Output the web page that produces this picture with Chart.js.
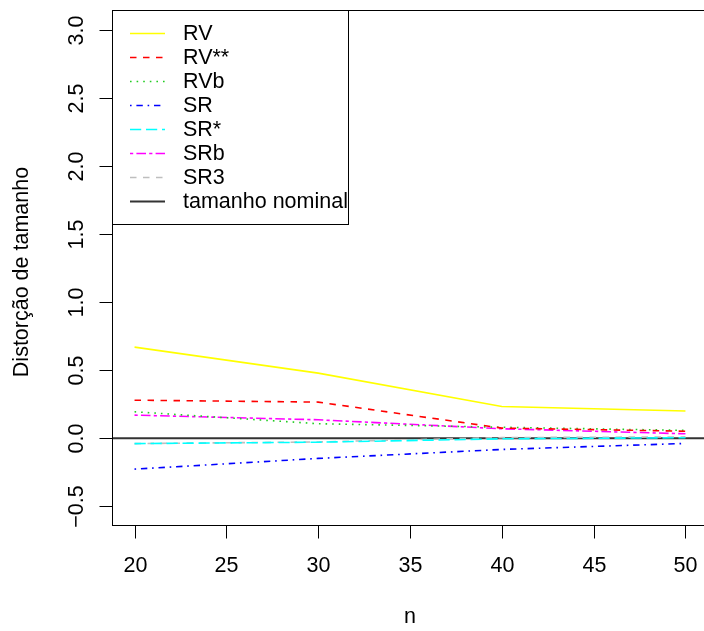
<!DOCTYPE html>
<html>
<head>
<meta charset="utf-8">
<script src="https://cdn.jsdelivr.net/npm/chart.js@4/dist/chart.umd.min.js"></script>
<style>
html,body{margin:0;padding:0;background:#fff;overflow:hidden;width:704px;height:631px;}
#wrap{position:absolute;left:0;top:0;width:712px;height:631px;}
canvas{display:block;}
</style>
</head>
<body>
<div id="wrap"><canvas id="c" width="712" height="631"></canvas></div>
<script>
// ---- data ----
const nValues = [20, 30, 40, 50];
const seriesNames = ["RV", "RV**", "RVb", "SR", "SR*", "SRb", "SR3"];
const RV     = [0.669, 0.478, 0.233, 0.199];
const RVss   = [0.279, 0.265, 0.074, 0.051];
const RVb    = [0.194, 0.106, 0.080, 0.057];
const SR     = [-0.228, -0.149, -0.083, -0.039];
const SRstar = [-0.040, -0.030, -0.005, 0.003];
const SRb    = [0.169, 0.135, 0.069, 0.032];
const SR3    = [-0.040, -0.028, 0.004, 0.009];
const nominalSize = 0;
const nominalLabel = "tamanho nominal";
const xTicks = [20, 25, 30, 35, 40, 45, 50];
const yTicks = [-0.5, 0.0, 0.5, 1.0, 1.5, 2.0, 2.5, 3.0];
const xTitle = "n";
const yTitle = "Distorção de tamanho";

// ---- styles ----
const seriesValues = [RV, RVss, RVb, SR, SRstar, SRb, SR3];
const colors = ["#FFFF00", "#FF0000", "#22CC22", "#0000FF", "#00FFFF", "#FF00FF", "#BEBEBE"];
const dashes = [[], [6.5, 6.5], [1.6, 5], [1.6, 4.8, 6.4, 4.8], [11.2, 4.8], [3.2, 3.2, 9.6, 3.2], [6.5, 6.5]];
const FONT = '21.5px "Liberation Sans", Arial, sans-serif';

const datasets = seriesValues.map((vals, i) => ({
  label: seriesNames[i],
  data: nValues.map((n, j) => ({x: n, y: vals[j]})),
  borderColor: colors[i],
  backgroundColor: colors[i],
  borderWidth: 1.6,
  borderDash: dashes[i],
  borderCapStyle: 'butt',
  pointRadius: 0,
  tension: 0,
  fill: false
}));

const rAxes = {
  id: 'rAxes',
  beforeDatasetsDraw(chart) {
    const ctx = chart.ctx, ys = chart.scales.y, a = chart.chartArea;
    const yz = ys.getPixelForValue(nominalSize);
    ctx.save();
    ctx.strokeStyle = '#333';
    ctx.lineWidth = 2;
    ctx.beginPath();
    ctx.moveTo(a.left, yz);
    ctx.lineTo(a.right, yz);
    ctx.stroke();
    ctx.restore();
  },
  afterDatasetsDraw(chart) {
    const ctx = chart.ctx, xs = chart.scales.x, ys = chart.scales.y, a = chart.chartArea;
    ctx.save();
    ctx.strokeStyle = '#000';
    ctx.fillStyle = '#000';
    ctx.lineWidth = 1;
    ctx.setLineDash([]);
    ctx.strokeRect(a.left, a.top, a.right - a.left, a.bottom - a.top);
    ctx.font = FONT;
    ctx.textAlign = 'center';
    ctx.textBaseline = 'alphabetic';
    xTicks.forEach(t => {
      const px = Math.round(xs.getPixelForValue(t)) + 0.5;
      ctx.beginPath();
      ctx.moveTo(px, a.bottom);
      ctx.lineTo(px, a.bottom + 13);
      ctx.stroke();
      ctx.fillText(String(t), px, 572);
    });
    yTicks.forEach(t => {
      const py = Math.round(ys.getPixelForValue(t)) + 0.5;
      ctx.beginPath();
      ctx.moveTo(a.left - 13, py);
      ctx.lineTo(a.left, py);
      ctx.stroke();
      ctx.save();
      ctx.translate(83, py);
      ctx.rotate(-Math.PI / 2);
      ctx.fillText((t < 0 ? '\u2212' + Math.abs(t).toFixed(1) : t.toFixed(1)), 0, 0);
      ctx.restore();
    });
    ctx.fillText(xTitle, (a.left + a.right) / 2, 623);
    ctx.save();
    ctx.translate(28, 272);
    ctx.rotate(-Math.PI / 2);
    ctx.fillText(yTitle, 0, 0);
    ctx.restore();

    // legend
    const lx = a.left, ly = a.top, lw = 236, lh = 214;
    ctx.fillStyle = '#fff';
    ctx.fillRect(lx, ly, lw, lh);
    ctx.strokeStyle = '#000';
    ctx.strokeRect(lx, ly, lw, lh);
    const labels = seriesNames.concat([nominalLabel]);
    ctx.textAlign = 'left';
    ctx.textBaseline = 'middle';
    labels.forEach((lab, i) => {
      const yy = 33.5 + i * 24;
      ctx.save();
      if (i < seriesNames.length) {
        ctx.strokeStyle = colors[i];
        ctx.lineWidth = 1.6;
        ctx.setLineDash(dashes[i]);
      } else {
        ctx.strokeStyle = '#333';
        ctx.lineWidth = 2;
        ctx.setLineDash([]);
      }
      ctx.beginPath();
      ctx.moveTo(130, yy);
      ctx.lineTo(165, yy);
      ctx.stroke();
      ctx.restore();
      ctx.fillStyle = '#000';
      ctx.fillText(lab, 183, yy + 1);
    });
    ctx.restore();
  }
};

new Chart(document.getElementById('c'), {
  type: 'line',
  data: {datasets},
  options: {
    responsive: false,
    animation: false,
    devicePixelRatio: 1,
    layout: {padding: {left: 112.5, top: 10.5, right: 4.5, bottom: 105.5}},
    plugins: {legend: {display: false}, tooltip: {enabled: false}},
    scales: {
      x: {type: 'linear', min: 18.8, max: 51.2, display: false},
      y: {type: 'linear', min: -0.642, max: 3.143, display: false}
    }
  },
  plugins: [rAxes]
});
</script>
</body>
</html>
